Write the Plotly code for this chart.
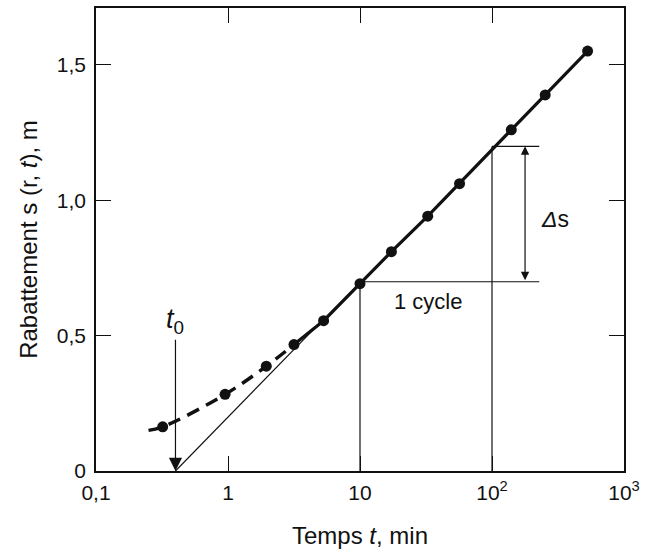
import numpy as np
import plotly.graph_objects as go

# --- data ---
t_obs = [0.32, 0.95, 1.95, 3.16, 5.3, 10, 17.3, 32.6, 56.8, 140, 253, 530]
s_obs = [0.163, 0.283, 0.387, 0.467, 0.555, 0.692, 0.81, 0.941, 1.061, 1.26, 1.389, 1.551]

# early (dashed) part of the measured curve, starting a little before the first point
t_early = [0.25, 0.32, 0.95, 1.95, 3.16]
s_early = [0.15, 0.163, 0.283, 0.387, 0.467]

# Jacob straight-line fit
t0 = 0.4            # intercept time, min
ds_cycle = 0.5      # drawdown per log cycle, m
t_fit = [t0, 5.3]
s_fit = [ds_cycle * np.log10(t / t0) for t in t_fit]

# construction lines (one log cycle 10 -> 100 min)
t_c1, t_c2 = 10, 100
s_c1 = ds_cycle * np.log10(t_c1 / t0)
s_c2 = ds_cycle * np.log10(t_c2 / t0)
t_hend = 228
t_arrow = 178

x_tickvals = [0.1, 1, 10, 100, 1000]
x_ticktext = ["0,1", "1", "10", "10<sup>2</sup>", "10<sup>3</sup>"]
y_tickvals = [0, 0.5, 1.0, 1.5]
y_ticktext = ["0", "0,5", "1,0", "1,5"]

FONT = "Liberation Sans Narrow, Liberation Sans, Arial, sans-serif"
BLACK = "#111111"

fig = go.Figure()

# thin fit line
fig.add_trace(go.Scatter(x=t_fit, y=s_fit, mode="lines",
                         line=dict(color=BLACK, width=1.2), hoverinfo="skip"))
# construction lines
fig.add_trace(go.Scatter(x=[t_c1, t_c1, None, t_c2, t_c2],
                         y=[0, s_c1, None, 0, s_c2], mode="lines",
                         line=dict(color=BLACK, width=1.2), hoverinfo="skip"))
fig.add_trace(go.Scatter(x=[t_c1, t_hend, None, t_c2, t_hend],
                         y=[s_c1, s_c1, None, s_c2, s_c2], mode="lines",
                         line=dict(color=BLACK, width=1.2), hoverinfo="skip"))
# dashed early curve
fig.add_trace(go.Scatter(x=t_early, y=s_early, mode="lines",
                         line=dict(color=BLACK, width=3.5, dash="13px,8px", shape="spline"),
                         hoverinfo="skip"))
# thick solid line through later points
fig.add_trace(go.Scatter(x=t_obs[3:], y=s_obs[3:], mode="lines",
                         line=dict(color=BLACK, width=3.2), hoverinfo="skip"))
# markers
fig.add_trace(go.Scatter(x=t_obs, y=s_obs, mode="markers",
                         marker=dict(color=BLACK, size=11), hoverinfo="skip"))

L = np.log10
annotations = [
    # t0 arrow
    dict(x=L(t0), y=0, ax=L(t0), ay=0.49, xref="x", yref="y", axref="x", ayref="y",
         showarrow=True, arrowhead=2, arrowsize=2.2, arrowwidth=1.2, arrowcolor=BLACK,
         text="", standoff=0),
    dict(x=L(t0), y=0.555, xref="x", yref="y", showarrow=False,
         text="<i>t</i><sub>0</sub>", font=dict(family=FONT, size=27, color=BLACK)),
    # delta s double arrow
    dict(x=L(t_arrow), y=s_c2, ax=L(t_arrow), ay=s_c1, xref="x", yref="y", axref="x", ayref="y",
         showarrow=True, arrowhead=2, startarrowhead=2, arrowside="end+start",
         arrowsize=1.4, startarrowsize=1.4, arrowwidth=1.2, arrowcolor=BLACK,
         text="", standoff=0, startstandoff=0),
    dict(x=L(300), y=0.93, xref="x", yref="y", showarrow=False,
         text="<i>Δ</i>s", font=dict(family=FONT, size=23, color=BLACK)),
    dict(x=L(33), y=0.625, xref="x", yref="y", showarrow=False,
         text="1 cycle", font=dict(family=FONT, size=22, color=BLACK)),
]

fig.update_layout(
    width=646, height=554,
    margin=dict(l=96, r=16, t=6, b=83),
    paper_bgcolor="white", plot_bgcolor="white",
    showlegend=False,
    font=dict(family=FONT, size=21, color=BLACK),
    annotations=annotations,
    xaxis=dict(type="log", range=[-1, 3], tickvals=x_tickvals, ticktext=x_ticktext,
               ticks="inside", ticklen=15, tickwidth=1.2, tickcolor=BLACK,
               showline=True, linewidth=1.6, linecolor=BLACK, mirror="ticks",
               showgrid=False, zeroline=False, ticklabelstandoff=2,
               title=dict(text="Temps <i>t</i>, min", font=dict(size=24), standoff=24)),
    yaxis=dict(range=[0, 1.71], tickvals=y_tickvals, ticktext=y_ticktext,
               ticks="inside", ticklen=15, tickwidth=1.2, tickcolor=BLACK,
               showline=True, linewidth=1.6, linecolor=BLACK, mirror="ticks",
               showgrid=False, zeroline=False, ticklabelstandoff=4,
               title=dict(text="Rabattement s (r, <i>t</i>), m", font=dict(size=24), standoff=12)),
)

fig.write_html("out.html")
